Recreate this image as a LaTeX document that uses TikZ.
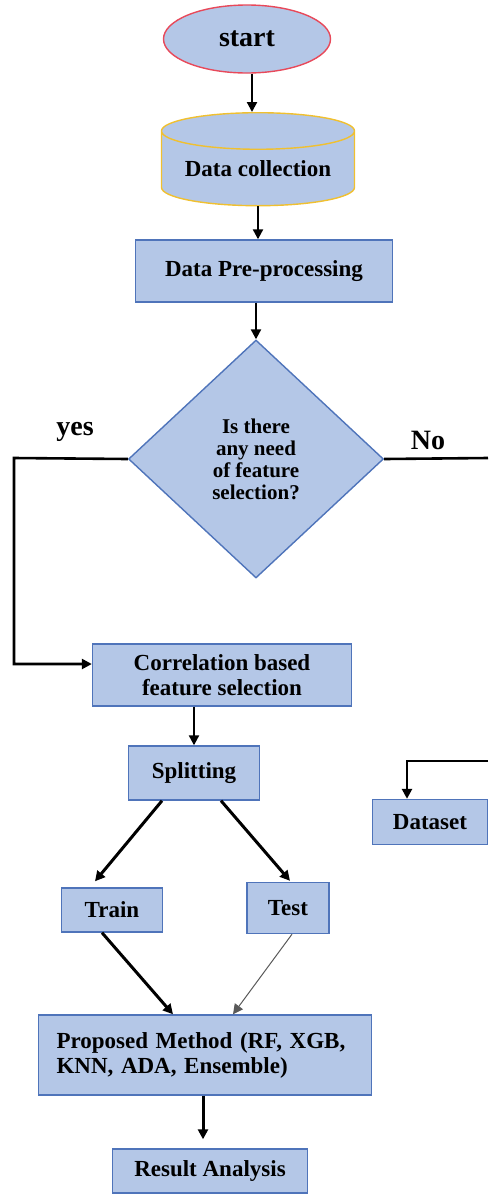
\documentclass[tikz,border=0pt]{standalone}
\usepackage{fontspec}
\setmainfont{Liberation Serif}
\usetikzlibrary{shapes.geometric, shapes.symbols, arrows.meta}
\definecolor{boxfill}{HTML}{B4C7E7}
\definecolor{boxline}{HTML}{4F74BA}
\definecolor{startline}{HTML}{E8495A}
\definecolor{dbline}{HTML}{F0C030}

\begin{document}
\begin{tikzpicture}[
        x=0.5pt, y=-0.5pt,
        font=\bfseries\fontsize{11.5}{12.5}\selectfont,
        proc/.style={rectangle, draw=boxline, fill=boxfill, line width=0.7pt, inner sep=0pt, align=center},
        term/.style={ellipse, draw=startline, fill=boxfill, line width=0.7pt, inner sep=0pt},
        store/.style={cylinder, shape border rotate=90, aspect=0.25, draw=dbline, fill=boxfill, line width=0.7pt, inner sep=0pt},
        dec/.style={diamond, draw=boxline, fill=boxfill, line width=0.7pt, inner sep=0pt, align=center},
        lbl/.style={font=\bfseries\fontsize{14}{16}\selectfont},
        edge/.style={->, >={Triangle[length=5pt, width=5pt]}, line width=1.1pt},
        bigedge/.style={edge, line width=1.5pt}
    ]
        \useasboundingbox (0,0) rectangle (488,1195);

        % Start and input
        \node[term, minimum width=83.5pt, minimum height=34pt, lbl] (start) at (247,39) {start};
        \node[store, minimum width=96.5pt, minimum height=46.5pt, anchor=north] (coll) at (258,112) {Data collection};
        \node[proc, minimum width=128.5pt, minimum height=31pt] (prep) at (264,271) {Data Pre-processing};

        % Decision
        \node[dec, minimum width=127.5pt, minimum height=119pt, font=\bfseries\fontsize{10.5}{11}\selectfont] (q) at (256,459) {Is there\\any need\\of feature\\selection?};
        \node[lbl] (yes) at (75,432) {yes};
        \node[lbl] (no) at (428,440) {No};
        \coordinate (yesbend) at (14,458);
        \coordinate (noend) at (488,458);

        % Feature selection and split
        \node[proc, minimum width=129.5pt, minimum height=31pt] (corr) at (222,675) {Correlation based\\feature selection};
        \node[proc, minimum width=65.5pt, minimum height=27pt] (split) at (194,773) {Splitting};
        \node[proc, minimum width=57.5pt, minimum height=22.5pt] (ds) at (430,822) {Dataset};
        \coordinate (dsin) at (488,761);
        \node[proc, minimum width=50.5pt, minimum height=22pt] (train) at (112,910) {Train};
        \node[proc, minimum width=41pt, minimum height=25.5pt] (test) at (288,908) {Test};

        % Model and result
        \node[proc, minimum height=40pt, text width=148.5pt, inner xsep=9pt, align=left] (prop) at (205,1055) {Proposed Method (RF, XGB,\\KNN, ADA, Ensemble)};
        \node[proc, minimum width=97.5pt, minimum height=22pt] (res) at (210,1171) {Result Analysis};

        % Edges
        \draw[edge] ([xshift=-3pt]coll.north |- start.south) -- ([xshift=-3pt]coll.north);
        \draw[edge] (coll.south) -- (coll.south |- prep.north);
        \draw[edge] (q.north |- prep.south) -- (q.north);
        \draw[edge, line width=1.3pt] (q.west) -- (yesbend) |- ([yshift=5.5pt]corr.west);
        \draw[line width=1.3pt] (q.east) -- (noend);
        \draw[edge, line width=1.3pt] (dsin) -| ([xshift=-11.5pt]ds.north);
        \draw[edge] (split.north |- corr.south) -- (split.north);
        \draw[bigedge] ([xshift=-16pt]split.south) -- ([xshift=-8.5pt, yshift=3pt]train.north);
        \draw[bigedge] ([xshift=13.5pt]split.south) -- ([xshift=1pt, yshift=0.5pt]test.north);
        \draw[bigedge] ([xshift=-5pt]train.south) -- ([xshift=-16pt]prop.north);
        \draw[edge, line width=0.5pt, gray!70!black] ([xshift=2pt]test.south) -- ([xshift=14pt]prop.north);
        \draw[bigedge] ([xshift=-1pt]prop.south) -- ([xshift=-1pt, yshift=4.5pt]prop.south |- res.north);

    \end{tikzpicture}
\end{document}
